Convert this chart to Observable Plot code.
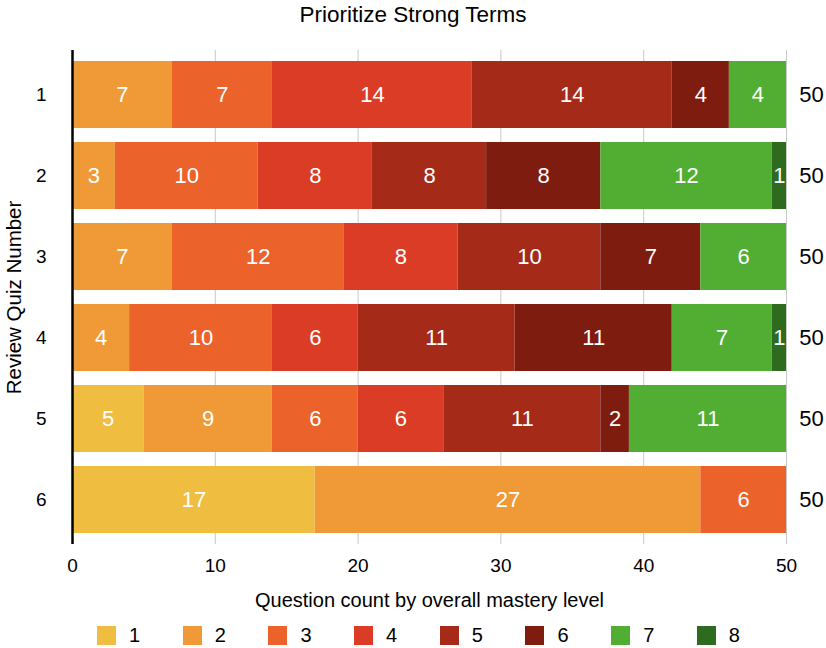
<!DOCTYPE html>
<html>
<head>
<meta charset="utf-8">
<script src="https://cdn.jsdelivr.net/npm/d3@7"></script>
<script src="https://cdn.jsdelivr.net/npm/@observablehq/plot@0.6"></script>
<style>
  html, body { margin: 0; padding: 0; background: #fff; }
  body { width: 826px; height: 648px; overflow: hidden; font-family: "Liberation Sans", Arial, Helvetica, sans-serif; color: #000; }
  #title { height: 30px; line-height: 30px; text-align: center; font-size: 22.5px; }
  #chart svg { display: block; }
  #legend { display: flex; padding-left: 97px; height: 26px; align-items: center; }
  .item { width: 85.7px; display: flex; align-items: center; font-size: 20px; }
  .sw { width: 19px; height: 19px; margin-right: 13px; }
</style>
</head>
<body>
<div id="title">Prioritize Strong Terms</div>
<div id="chart"></div>
<div id="legend"></div>
<script>
const title = "Prioritize Strong Terms";
const quizzes = ["1", "2", "3", "4", "5", "6"];
const levels = ["1", "2", "3", "4", "5", "6", "7", "8"];
const levelColors = ["#EFBD40", "#F09A37", "#EC622B", "#DA3C26", "#A52A18", "#7E1C10", "#52AD33", "#2E6B1E"];
// counts per quiz, one value per mastery level 1..8
const quiz1 = [0, 7, 7, 14, 14, 4, 4, 0];
const quiz2 = [0, 3, 10, 8, 8, 8, 12, 1];
const quiz3 = [0, 7, 12, 8, 10, 7, 6, 0];
const quiz4 = [0, 4, 10, 6, 11, 11, 7, 1];
const quiz5 = [5, 9, 6, 6, 11, 2, 11, 0];
const quiz6 = [17, 27, 6, 0, 0, 0, 0, 0];
const xTicks = [0, 10, 20, 30, 40, 50];
const xLabel = "Question count by overall mastery level";
const yLabel = "Review Quiz Number";

const rows = [quiz1, quiz2, quiz3, quiz4, quiz5, quiz6];
const data = [];
rows.forEach((r, qi) => r.forEach((c, li) => {
  if (c > 0) data.push({quiz: quizzes[qi], level: levels[li], count: c});
}));
const totals = quizzes.map(q => ({quiz: q, total: d3.sum(data.filter(d => d.quiz === q), d => d.count)}));

const chart = Plot.plot({
  width: 826,
  height: 592,
  marginTop: 20,
  marginBottom: 78,
  marginLeft: 72,
  marginRight: 40,
  style: {fontFamily: '"Liberation Sans", Arial, Helvetica, sans-serif', color: "#000", background: "transparent"},
  x: {domain: [0, 50]},
  y: {type: "band", domain: quizzes, paddingInner: 0.17, paddingOuter: 0.1},
  color: {type: "ordinal", domain: levels, range: levelColors},
  marks: [
    Plot.gridX(xTicks.filter(t => t > 0), {stroke: "#c8c8c8", strokeOpacity: 1, strokeWidth: 1}),
    Plot.barX(data, Plot.stackX({x: "count", y: "quiz", fill: "level"})),
    Plot.text(data, Plot.stackX({x: "count", y: "quiz", text: d => String(d.count), fill: "white", fontSize: 22})),
    Plot.ruleX([0], {stroke: "#000", strokeWidth: 2.5}),
    Plot.text(totals, {x: 50, y: "quiz", text: d => String(d.total), dx: 25, fontSize: 22, fill: "#000"}),
    Plot.axisX({ticks: xTicks, tickSize: 0, tickPadding: 14, fontSize: 19, label: null}),
    Plot.axisY({tickSize: 0, tickPadding: 26, fontSize: 19, label: null}),
    Plot.text([xLabel], {frameAnchor: "bottom", dy: 56, lineAnchor: "middle", textAnchor: "middle", fontSize: 20, fill: "#000", text: d => d}),
    Plot.text([yLabel], {frameAnchor: "left", rotate: -90, dx: -58, lineAnchor: "middle", textAnchor: "middle", fontSize: 20.5, fill: "#000", text: d => d})
  ]
});
document.getElementById("chart").appendChild(chart);

const legend = document.getElementById("legend");
levels.forEach((l, i) => {
  const item = document.createElement("div");
  item.className = "item";
  const sw = document.createElement("div");
  sw.className = "sw";
  sw.style.background = levelColors[i];
  const lab = document.createElement("span");
  lab.textContent = l;
  item.appendChild(sw);
  item.appendChild(lab);
  legend.appendChild(item);
});
</script>
</body>
</html>
